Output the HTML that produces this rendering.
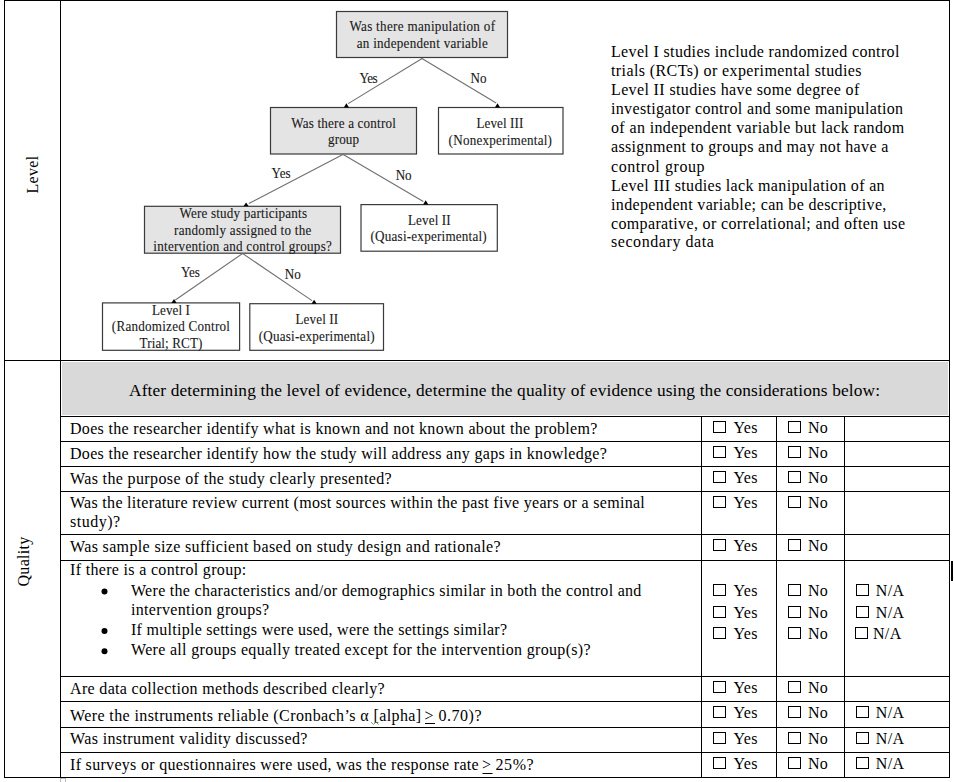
<!DOCTYPE html>
<html><head><meta charset="utf-8"><style>html,body{margin:0;padding:0;background:#fff;width:954px;height:782px;overflow:hidden}</style></head>
<body><svg width="954" height="782" viewBox="0 0 954 782" style="display:block;font-family:'Liberation Serif',serif"><rect x="62" y="362" width="886" height="53" fill="#d9d9d9"/>
<rect x="4" y="0" width="946" height="1" fill="#000"/>
<rect x="4" y="360" width="946" height="1" fill="#000"/>
<rect x="4" y="777" width="946" height="1" fill="#000"/>
<rect x="60" y="416" width="890" height="1" fill="#000"/>
<rect x="60" y="441" width="890" height="1" fill="#000"/>
<rect x="60" y="466" width="890" height="1" fill="#000"/>
<rect x="60" y="491" width="890" height="1" fill="#000"/>
<rect x="60" y="534" width="890" height="1" fill="#000"/>
<rect x="60" y="560" width="890" height="1" fill="#000"/>
<rect x="60" y="676" width="890" height="1" fill="#000"/>
<rect x="60" y="701" width="890" height="1" fill="#000"/>
<rect x="60" y="727" width="890" height="1" fill="#000"/>
<rect x="60" y="752" width="890" height="1" fill="#000"/>
<rect x="4" y="0" width="1" height="778" fill="#000"/>
<rect x="60" y="0" width="1" height="778" fill="#000"/>
<rect x="949" y="0" width="1" height="778" fill="#000"/>
<rect x="701" y="416" width="1" height="362" fill="#000"/>
<rect x="776" y="416" width="1" height="362" fill="#000"/>
<rect x="844" y="416" width="1" height="362" fill="#000"/>
<rect x="60.5" y="778.5" width="5" height="6" fill="none" stroke="#bbb" stroke-width="1"/>
<rect x="951" y="561" width="2" height="20" fill="#000"/>
<text x="0" y="0" font-size="16" letter-spacing="0.3" transform="translate(37.7,193.5) rotate(-90)">Level</text>
<text x="0" y="0" font-size="16" letter-spacing="0.3" transform="translate(28.5,586.5) rotate(-90)">Quality</text>
<text x="129" y="395.9" font-size="17.33" letter-spacing="0" fill="#000" textLength="751" lengthAdjust="spacing">After determining the level of evidence, determine the quality of evidence using the considerations below:</text>
<text x="70" y="433.7" font-size="16" letter-spacing="0.32" fill="#000" textLength="527.7" lengthAdjust="spacing">Does the researcher identify what is known and not known about the problem?</text>
<text x="70" y="458.7" font-size="16" letter-spacing="0.32" fill="#000" textLength="537.2" lengthAdjust="spacing">Does the researcher identify how the study will address any gaps in knowledge?</text>
<text x="70" y="483.7" font-size="16" letter-spacing="0.32" fill="#000" textLength="322.0" lengthAdjust="spacing">Was the purpose of the study clearly presented?</text>
<text x="70" y="507.5" font-size="16" letter-spacing="0.32" fill="#000" textLength="575.1" lengthAdjust="spacing">Was the literature review current (most sources within the past five years or a seminal</text>
<text x="70" y="551.5" font-size="16" letter-spacing="0.32" fill="#000" textLength="431.0" lengthAdjust="spacing">Was sample size sufficient based on study design and rationale?</text>
<text x="70" y="693.8" font-size="16" letter-spacing="0.32" fill="#000" textLength="314.9" lengthAdjust="spacing">Are data collection methods described clearly?</text>
<text x="70" y="744.4" font-size="16" letter-spacing="0.32" fill="#000" textLength="237.7" lengthAdjust="spacing">Was instrument validity discussed?</text>
<text x="70" y="527" font-size="16" letter-spacing="0.32" fill="#000" textLength="50.5" lengthAdjust="spacing">study)?</text>
<text x="70" y="720.5" font-size="16" letter-spacing="0.32" fill="#000" textLength="351.5" lengthAdjust="spacing">Were the instruments reliable (Cronbach’s α [alpha]</text>
<text x="424.5" y="720.5" font-size="16" letter-spacing="0" fill="#000">&gt;</text>
<rect x="425" y="723" width="10" height="1" fill="#000"/>
<text x="438.5" y="720.5" font-size="16" letter-spacing="0.32" fill="#000" textLength="43.3" lengthAdjust="spacing">0.70)?</text>
<path d="M371,722 L373.5,724.5 L376,722 L378.5,724.5" fill="none" stroke="#3a9a3a" stroke-width="0.8"/>
<text x="70" y="769.7" font-size="16" letter-spacing="0.32" fill="#000" textLength="409" lengthAdjust="spacing">If surveys or questionnaires were used, was the response rate</text>
<text x="482" y="769.7" font-size="16" letter-spacing="0" fill="#000">&gt;</text>
<rect x="482.5" y="773" width="10" height="1" fill="#000"/>
<text x="495.5" y="769.7" font-size="16" letter-spacing="0.32" fill="#000" textLength="38.5" lengthAdjust="spacing">25%?</text>
<text x="70" y="575" font-size="16" letter-spacing="0.32" fill="#000" textLength="176.6" lengthAdjust="spacing">If there is a control group:</text>
<circle cx="104.5" cy="591.5" r="3" fill="#000"/>
<circle cx="104.5" cy="630.9" r="3" fill="#000"/>
<circle cx="104.5" cy="651.1999999999999" r="3" fill="#000"/>
<text x="131" y="595.7" font-size="16" letter-spacing="0.32" fill="#000" textLength="510.7" lengthAdjust="spacing">Were the characteristics and/or demographics similar in both the control and</text>
<text x="131" y="615" font-size="16" letter-spacing="0.32" fill="#000" textLength="138.5" lengthAdjust="spacing">intervention groups?</text>
<text x="131" y="635.1" font-size="16" letter-spacing="0.32" fill="#000" textLength="376.3" lengthAdjust="spacing">If multiple settings were used, were the settings similar?</text>
<text x="131" y="655.4" font-size="16" letter-spacing="0.32" fill="#000" textLength="459.9" lengthAdjust="spacing">Were all groups equally treated except for the intervention group(s)?</text>
<rect x="713.5" y="421.5" width="12" height="11" fill="none" stroke="#000" stroke-width="1"/>
<text x="733.5" y="433" font-size="16" letter-spacing="0.32" fill="#000">Yes</text>
<rect x="788.5" y="421.5" width="12" height="11" fill="none" stroke="#000" stroke-width="1"/>
<text x="808" y="433" font-size="16" letter-spacing="0.32" fill="#000">No</text>
<rect x="713.5" y="446.5" width="12" height="11" fill="none" stroke="#000" stroke-width="1"/>
<text x="733.5" y="458" font-size="16" letter-spacing="0.32" fill="#000">Yes</text>
<rect x="788.5" y="446.5" width="12" height="11" fill="none" stroke="#000" stroke-width="1"/>
<text x="808" y="458" font-size="16" letter-spacing="0.32" fill="#000">No</text>
<rect x="713.5" y="471.5" width="12" height="11" fill="none" stroke="#000" stroke-width="1"/>
<text x="733.5" y="483" font-size="16" letter-spacing="0.32" fill="#000">Yes</text>
<rect x="788.5" y="471.5" width="12" height="11" fill="none" stroke="#000" stroke-width="1"/>
<text x="808" y="483" font-size="16" letter-spacing="0.32" fill="#000">No</text>
<rect x="713.5" y="496.5" width="12" height="11" fill="none" stroke="#000" stroke-width="1"/>
<text x="733.5" y="508" font-size="16" letter-spacing="0.32" fill="#000">Yes</text>
<rect x="788.5" y="496.5" width="12" height="11" fill="none" stroke="#000" stroke-width="1"/>
<text x="808" y="508" font-size="16" letter-spacing="0.32" fill="#000">No</text>
<rect x="713.5" y="539.5" width="12" height="11" fill="none" stroke="#000" stroke-width="1"/>
<text x="733.5" y="551" font-size="16" letter-spacing="0.32" fill="#000">Yes</text>
<rect x="788.5" y="539.5" width="12" height="11" fill="none" stroke="#000" stroke-width="1"/>
<text x="808" y="551" font-size="16" letter-spacing="0.32" fill="#000">No</text>
<rect x="713.5" y="681.5" width="12" height="11" fill="none" stroke="#000" stroke-width="1"/>
<text x="733.5" y="693" font-size="16" letter-spacing="0.32" fill="#000">Yes</text>
<rect x="788.5" y="681.5" width="12" height="11" fill="none" stroke="#000" stroke-width="1"/>
<text x="808" y="693" font-size="16" letter-spacing="0.32" fill="#000">No</text>
<rect x="713.5" y="706.5" width="12" height="11" fill="none" stroke="#000" stroke-width="1"/>
<text x="733.5" y="718" font-size="16" letter-spacing="0.32" fill="#000">Yes</text>
<rect x="788.5" y="706.5" width="12" height="11" fill="none" stroke="#000" stroke-width="1"/>
<text x="808" y="718" font-size="16" letter-spacing="0.32" fill="#000">No</text>
<rect x="856.5" y="706.5" width="12" height="11" fill="none" stroke="#000" stroke-width="1"/>
<text x="875.8" y="718" font-size="16" letter-spacing="0.32" fill="#000">N/A</text>
<rect x="713.5" y="732.5" width="12" height="11" fill="none" stroke="#000" stroke-width="1"/>
<text x="733.5" y="744" font-size="16" letter-spacing="0.32" fill="#000">Yes</text>
<rect x="788.5" y="732.5" width="12" height="11" fill="none" stroke="#000" stroke-width="1"/>
<text x="808" y="744" font-size="16" letter-spacing="0.32" fill="#000">No</text>
<rect x="856.5" y="732.5" width="12" height="11" fill="none" stroke="#000" stroke-width="1"/>
<text x="875.8" y="744" font-size="16" letter-spacing="0.32" fill="#000">N/A</text>
<rect x="713.5" y="757.5" width="12" height="11" fill="none" stroke="#000" stroke-width="1"/>
<text x="733.5" y="769" font-size="16" letter-spacing="0.32" fill="#000">Yes</text>
<rect x="788.5" y="757.5" width="12" height="11" fill="none" stroke="#000" stroke-width="1"/>
<text x="808" y="769" font-size="16" letter-spacing="0.32" fill="#000">No</text>
<rect x="856.5" y="757.5" width="12" height="11" fill="none" stroke="#000" stroke-width="1"/>
<text x="875.8" y="769" font-size="16" letter-spacing="0.32" fill="#000">N/A</text>
<rect x="713.5" y="584.5" width="12" height="11" fill="none" stroke="#000" stroke-width="1"/>
<text x="733.5" y="595.5" font-size="16" letter-spacing="0.32" fill="#000">Yes</text>
<rect x="788.5" y="584.5" width="12" height="11" fill="none" stroke="#000" stroke-width="1"/>
<text x="808" y="595.5" font-size="16" letter-spacing="0.32" fill="#000">No</text>
<rect x="856.5" y="584.5" width="12" height="11" fill="none" stroke="#000" stroke-width="1"/>
<text x="875.8" y="595.5" font-size="16" letter-spacing="0.32" fill="#000">N/A</text>
<rect x="713.5" y="606.5" width="12" height="11" fill="none" stroke="#000" stroke-width="1"/>
<text x="733.5" y="617.5" font-size="16" letter-spacing="0.32" fill="#000">Yes</text>
<rect x="788.5" y="606.5" width="12" height="11" fill="none" stroke="#000" stroke-width="1"/>
<text x="808" y="617.5" font-size="16" letter-spacing="0.32" fill="#000">No</text>
<rect x="856.5" y="606.5" width="12" height="11" fill="none" stroke="#000" stroke-width="1"/>
<text x="875.8" y="617.5" font-size="16" letter-spacing="0.32" fill="#000">N/A</text>
<rect x="713.5" y="627.5" width="12" height="11" fill="none" stroke="#000" stroke-width="1"/>
<text x="733.5" y="638.5" font-size="16" letter-spacing="0.32" fill="#000">Yes</text>
<rect x="788.5" y="627.5" width="12" height="11" fill="none" stroke="#000" stroke-width="1"/>
<text x="808" y="638.5" font-size="16" letter-spacing="0.32" fill="#000">No</text>
<rect x="855.5" y="627.5" width="12" height="11" fill="none" stroke="#000" stroke-width="1"/>
<text x="873" y="638.5" font-size="16" letter-spacing="0.32" fill="#000">N/A</text>
<text x="611" y="56.7" font-size="16" letter-spacing="0.32" fill="#000" textLength="288.7" lengthAdjust="spacing">Level I studies include randomized control</text>
<text x="611" y="75.7" font-size="16" letter-spacing="0.32" fill="#000" textLength="250.9" lengthAdjust="spacing">trials (RCTs) or experimental studies</text>
<text x="611" y="94.7" font-size="16" letter-spacing="0.32" fill="#000" textLength="248.6" lengthAdjust="spacing">Level II studies have some degree of</text>
<text x="611" y="113.8" font-size="16" letter-spacing="0.32" fill="#000" textLength="292.4" lengthAdjust="spacing">investigator control and some manipulation</text>
<text x="611" y="132.5" font-size="16" letter-spacing="0.32" fill="#000" textLength="293.5" lengthAdjust="spacing">of an independent variable but lack random</text>
<text x="611" y="152.2" font-size="16" letter-spacing="0.32" fill="#000" textLength="277.6" lengthAdjust="spacing">assignment to groups and may not have a</text>
<text x="611" y="171.7" font-size="16" letter-spacing="0.32" fill="#000" textLength="93.9" lengthAdjust="spacing">control group</text>
<text x="611" y="190.7" font-size="16" letter-spacing="0.32" fill="#000" textLength="273.9" lengthAdjust="spacing">Level III studies lack manipulation of an</text>
<text x="611" y="209.5" font-size="16" letter-spacing="0.32" fill="#000" textLength="275.7" lengthAdjust="spacing">independent variable; can be descriptive,</text>
<text x="611" y="228.8" font-size="16" letter-spacing="0.32" fill="#000" textLength="294.3" lengthAdjust="spacing">comparative, or correlational; and often use</text>
<text x="611" y="247.2" font-size="16" letter-spacing="0.32" fill="#000" textLength="103.2" lengthAdjust="spacing">secondary data</text>
<rect x="336.5" y="11.5" width="171.0" height="46.0" fill="#e4e4e4" stroke="#3a3a3a" stroke-width="1.2"/>
<rect x="270.5" y="107.5" width="146.0" height="46.5" fill="#e4e4e4" stroke="#3a3a3a" stroke-width="1.2"/>
<rect x="438.5" y="107.5" width="124.5" height="46.5" fill="#fff" stroke="#3a3a3a" stroke-width="1.2"/>
<rect x="144.5" y="206.3" width="196.0" height="46.89999999999998" fill="#e4e4e4" stroke="#3a3a3a" stroke-width="1.2"/>
<rect x="361" y="204.6" width="136.3" height="46.599999999999994" fill="#fff" stroke="#3a3a3a" stroke-width="1.2"/>
<rect x="102.5" y="302.9" width="137.1" height="47.400000000000034" fill="#fff" stroke="#3a3a3a" stroke-width="1.2"/>
<rect x="249.8" y="303.7" width="133.7" height="46.60000000000002" fill="#fff" stroke="#3a3a3a" stroke-width="1.2"/>
<line x1="422.5" y1="58.3" x2="348.2" y2="103.6" stroke="#707070" stroke-width="1.1"/>
<line x1="421.5" y1="58.3" x2="496.2" y2="103" stroke="#707070" stroke-width="1.1"/>
<line x1="343.4" y1="154.3" x2="248.8" y2="203.6" stroke="#707070" stroke-width="1.1"/>
<line x1="342.8" y1="154.3" x2="423.3" y2="201.5" stroke="#707070" stroke-width="1.1"/>
<line x1="242.6" y1="253.5" x2="175.3" y2="300" stroke="#707070" stroke-width="1.1"/>
<line x1="242.6" y1="253.5" x2="312" y2="300.6" stroke="#707070" stroke-width="1.1"/>
<path d="M343.79999999999995,107.5 L346.4,103.2 L349.0,107.5 Z" fill="#000"/>
<path d="M494.9,107.5 L497.5,103.2 L500.1,107.5 Z" fill="#000"/>
<path d="M243.5,206.3 L246.1,202.4 L248.7,206.3 Z" fill="#000"/>
<path d="M423.09999999999997,204.6 L425.7,200.3 L428.3,204.6 Z" fill="#000"/>
<path d="M171.4,302.9 L174,299 L176.6,302.9 Z" fill="#000"/>
<path d="M311.5,303.7 L314.1,299.8 L316.70000000000005,303.7 Z" fill="#000"/>
<text x="367.79" y="31.4" font-size="13.8" letter-spacing="0" fill="#1a1a1a" textLength="153.26" lengthAdjust="spacing" transform="scale(0.95,1)" stroke="#1a1a1a" stroke-width="0.12">Was there manipulation of</text>
<text x="375.47" y="47.9" font-size="13.8" letter-spacing="0" fill="#1a1a1a" textLength="137.89" lengthAdjust="spacing" transform="scale(0.95,1)" stroke="#1a1a1a" stroke-width="0.12">an independent variable</text>
<text x="378.42" y="83.4" font-size="13.8" letter-spacing="0" fill="#1a1a1a" textLength="19.16" lengthAdjust="spacing" transform="scale(0.95,1)" stroke="#1a1a1a" stroke-width="0.12">Yes</text>
<text x="495.16" y="83.4" font-size="13.8" letter-spacing="0" fill="#1a1a1a" textLength="16.95" lengthAdjust="spacing" transform="scale(0.95,1)" stroke="#1a1a1a" stroke-width="0.12">No</text>
<text x="306.53" y="127.7" font-size="13.8" letter-spacing="0" fill="#1a1a1a" textLength="110.21" lengthAdjust="spacing" transform="scale(0.95,1)" stroke="#1a1a1a" stroke-width="0.12">Was there a control</text>
<text x="345.37" y="144.3" font-size="13.8" letter-spacing="0" fill="#1a1a1a" textLength="32.53" lengthAdjust="spacing" transform="scale(0.95,1)" stroke="#1a1a1a" stroke-width="0.12">group</text>
<text x="501.47" y="127.9" font-size="13.8" letter-spacing="0" fill="#1a1a1a" textLength="49.47" lengthAdjust="spacing" transform="scale(0.95,1)" stroke="#1a1a1a" stroke-width="0.12">Level III</text>
<text x="472.21" y="144.7" font-size="13.8" letter-spacing="0" fill="#1a1a1a" textLength="108.84" lengthAdjust="spacing" transform="scale(0.95,1)" stroke="#1a1a1a" stroke-width="0.12">(Nonexperimental)</text>
<text x="285.68" y="177.9" font-size="13.8" letter-spacing="0" fill="#1a1a1a" textLength="20.32" lengthAdjust="spacing" transform="scale(0.95,1)" stroke="#1a1a1a" stroke-width="0.12">Yes</text>
<text x="416.53" y="180.1" font-size="13.8" letter-spacing="0" fill="#1a1a1a" textLength="16.74" lengthAdjust="spacing" transform="scale(0.95,1)" stroke="#1a1a1a" stroke-width="0.12">No</text>
<text x="188.84" y="218.1" font-size="13.8" letter-spacing="0" fill="#1a1a1a" textLength="134.32" lengthAdjust="spacing" transform="scale(0.95,1)" stroke="#1a1a1a" stroke-width="0.12">Were study participants</text>
<text x="183.16" y="234.7" font-size="13.8" letter-spacing="0" fill="#1a1a1a" textLength="144.53" lengthAdjust="spacing" transform="scale(0.95,1)" stroke="#1a1a1a" stroke-width="0.12">randomly assigned to the</text>
<text x="161.37" y="251.3" font-size="13.8" letter-spacing="0" fill="#1a1a1a" textLength="187.89" lengthAdjust="spacing" transform="scale(0.95,1)" stroke="#1a1a1a" stroke-width="0.12">intervention and control groups?</text>
<text x="429.37" y="224.9" font-size="13.8" letter-spacing="0" fill="#1a1a1a" textLength="45.05" lengthAdjust="spacing" transform="scale(0.95,1)" stroke="#1a1a1a" stroke-width="0.12">Level II</text>
<text x="390.0" y="241.1" font-size="13.8" letter-spacing="0" fill="#1a1a1a" textLength="122.32" lengthAdjust="spacing" transform="scale(0.95,1)" stroke="#1a1a1a" stroke-width="0.12">(Quasi-experimental)</text>
<text x="190.53" y="276.7" font-size="13.8" letter-spacing="0" fill="#1a1a1a" textLength="19.89" lengthAdjust="spacing" transform="scale(0.95,1)" stroke="#1a1a1a" stroke-width="0.12">Yes</text>
<text x="299.79" y="278.8" font-size="13.8" letter-spacing="0" fill="#1a1a1a" textLength="16.84" lengthAdjust="spacing" transform="scale(0.95,1)" stroke="#1a1a1a" stroke-width="0.12">No</text>
<text x="160.0" y="315" font-size="13.8" letter-spacing="0" fill="#1a1a1a" textLength="39.79" lengthAdjust="spacing" transform="scale(0.95,1)" stroke="#1a1a1a" stroke-width="0.12">Level I</text>
<text x="117.68" y="331.3" font-size="13.8" letter-spacing="0" fill="#1a1a1a" textLength="124.42" lengthAdjust="spacing" transform="scale(0.95,1)" stroke="#1a1a1a" stroke-width="0.12">(Randomized Control</text>
<text x="146.84" y="347.7" font-size="13.8" letter-spacing="0" fill="#1a1a1a" textLength="66.21" lengthAdjust="spacing" transform="scale(0.95,1)" stroke="#1a1a1a" stroke-width="0.12">Trial; RCT)</text>
<text x="310.95" y="323.8" font-size="13.8" letter-spacing="0" fill="#1a1a1a" textLength="45.05" lengthAdjust="spacing" transform="scale(0.95,1)" stroke="#1a1a1a" stroke-width="0.12">Level II</text>
<text x="272.42" y="340.6" font-size="13.8" letter-spacing="0" fill="#1a1a1a" textLength="121.89" lengthAdjust="spacing" transform="scale(0.95,1)" stroke="#1a1a1a" stroke-width="0.12">(Quasi-experimental)</text></svg></body></html>
